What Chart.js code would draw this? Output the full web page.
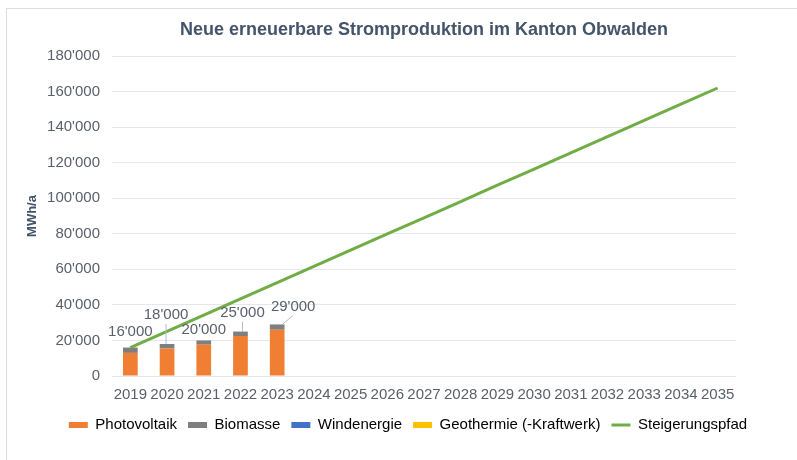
<!DOCTYPE html>
<html>
<head>
<meta charset="utf-8">
<script src="https://cdn.jsdelivr.net/npm/chart.js@4.4.0/dist/chart.umd.min.js"></script>
<style>
  html, body { margin: 0; padding: 0; background: #fff; }
  #wrap { position: relative; width: 797px; height: 460px; overflow: hidden; }
  #frame { position: absolute; left: 6px; top: 8px; width: 900px; height: 600px;
           border-left: 1px solid #dcdce6; border-top: 1px solid #dcdce6; pointer-events: none; }
  canvas { position: absolute; left: 0; top: 0; }
</style>
</head>
<body>
<div id="wrap">
  <canvas id="mainCanvas" width="797" height="460"></canvas>
  <div id="frame"></div>
</div>
<script>
// values
const years = ['2019', '2020', '2021', '2022', '2023', '2024', '2025', '2026', '2027',
               '2028', '2029', '2030', '2031', '2032', '2033', '2034', '2035'];
const photovoltaik = [13000, 15500, 17600, 22500, 26000];
const biomasse = [3000, 2500, 2400, 2500, 3000];
const windenergie = [0, 0, 0, 0, 0];
const geothermie = [0, 0, 0, 0, 0];
const steigerungspfad = [16000, 25100, 34300, 43400, 52500, 61600, 70800, 79900, 89000,
                         98100, 107300, 116400, 125500, 134600, 143800, 152900, 162000];
const yTicks = [0, 20000, 40000, 60000, 80000, 100000, 120000, 140000, 160000, 180000];

// where each total label sits, relative to the top of its bar (px)
const labelOffsets = [[0, -16], [-1, -29], [0, -11], [2, -19], [16, -18]];

const FONT = '"Liberation Sans", Arial, sans-serif';
const textColor = '#595f6b';
const titleColor = '#44546a';

function swissNumber(v) {
  return String(v).replace(/\B(?=(\d{3})+(?!\d))/g, "'");
}

const totalLabels = {
  id: 'totalLabels',
  afterDatasetsDraw(chart) {
    const { ctx, scales: { x, y } } = chart;
    ctx.save();
    ctx.font = '15px ' + FONT;
    ctx.textAlign = 'center';
    ctx.textBaseline = 'middle';
    photovoltaik.forEach((pv, i) => {
      const total = pv + biomasse[i] + windenergie[i] + geothermie[i];
      const bx = x.getPixelForValue(i);
      const by = y.getPixelForValue(total);
      const [dx, dy] = labelOffsets[i];
      const lx = bx + dx;
      const ly = by + dy;
      if (-dy > 17) {
        ctx.strokeStyle = '#b4bcc8';
        ctx.lineWidth = 1;
        ctx.beginPath();
        ctx.moveTo(lx, ly + 9);
        ctx.lineTo(bx + Math.max(-5, Math.min(5, dx)), by);
        ctx.stroke();
      }
      ctx.fillStyle = textColor;
      ctx.fillText(swissNumber(total), lx, ly);
    });
    ctx.restore();
  }
};

document.addEventListener('DOMContentLoaded', () => {
  const ctx = document.getElementById('mainCanvas').getContext('2d');
  Chart.defaults.font.family = FONT;
  Chart.defaults.color = textColor;

  new Chart(ctx, {
    type: 'bar',
    data: {
      labels: years,
      datasets: [
        { label: 'Photovoltaik', data: photovoltaik, backgroundColor: '#f07e33' },
        { label: 'Biomasse', data: biomasse, backgroundColor: '#7f7f7f' },
        { label: 'Windenergie', data: windenergie, backgroundColor: '#4472c4' },
        { label: 'Geothermie (-Kraftwerk)', data: geothermie, backgroundColor: '#ffc000' },
        {
          type: 'line', label: 'Steigerungspfad', data: steigerungspfad,
          borderColor: '#70ad47', backgroundColor: '#70ad47', borderWidth: 3,
          pointRadius: 0, tension: 0, fill: false, order: -1, stack: 'pfad'
        }
      ]
    },
    options: {
      responsive: false,
      animation: false,
      datasets: { bar: { barPercentage: 0.4, categoryPercentage: 1 } },
      layout: { padding: { left: 20, right: 1, top: 0, bottom: 17.5 } },
      plugins: {
        title: {
          display: true,
          fullSize: false,
          text: 'Neue erneuerbare Stromproduktion im Kanton Obwalden',
          color: titleColor,
          font: { size: 18, weight: 'bold' },
          padding: { top: 19, bottom: 15.4 }
        },
        legend: {
          position: 'bottom',
          labels: {
            usePointStyle: true,
            pointStyleWidth: 19,
            boxHeight: 6,
            padding: 11,
            color: textColor,
            font: { size: 15 },
            sort: (a, b) => a.datasetIndex - b.datasetIndex,
            generateLabels(chart) {
              return chart.data.datasets.map((ds, i) => ({
                text: ds.label,
                datasetIndex: i,
                fillStyle: ds.backgroundColor,
                strokeStyle: ds.type === 'line' ? ds.borderColor : ds.backgroundColor,
                lineWidth: ds.type === 'line' ? 3 : 0,
                pointStyle: ds.type === 'line' ? 'line' : 'rect',
                hidden: false
              }));
            }
          }
        },
        tooltip: { enabled: false }
      },
      scales: {
        x: {
          stacked: true,
          grid: { display: false },
          border: { display: false },
          ticks: { font: { size: 15 }, color: textColor, autoSkip: false, maxRotation: 0, padding: 2 },
          afterFit: (scale) => { scale.height = 30.5; }
        },
        y: {
          stacked: true,
          min: 0,
          max: 180000,
          afterBuildTicks: (scale) => { scale.ticks = yTicks.map(v => ({ value: v })); },
          ticks: { font: { size: 15 }, color: textColor, padding: 12, callback: (v) => swissNumber(v) },
          grid: { color: '#e6e7ee', drawTicks: false },
          border: { display: false },
          title: {
            display: true, text: 'MWh/a', color: titleColor,
            font: { size: 13, weight: 'bold' }, padding: { top: 4.2, bottom: 0 }
          },
          afterFit: (scale) => { scale.width = 92; }
        },
        // empty right-hand spacer, keeps the plot narrower than the legend row
        y2: {
          position: 'right',
          grid: { display: false },
          border: { display: false },
          ticks: { display: false },
          afterFit: (scale) => { scale.width = 60; }
        }
      }
    },
    plugins: [totalLabels]
  });
});
</script>
</body>
</html>
